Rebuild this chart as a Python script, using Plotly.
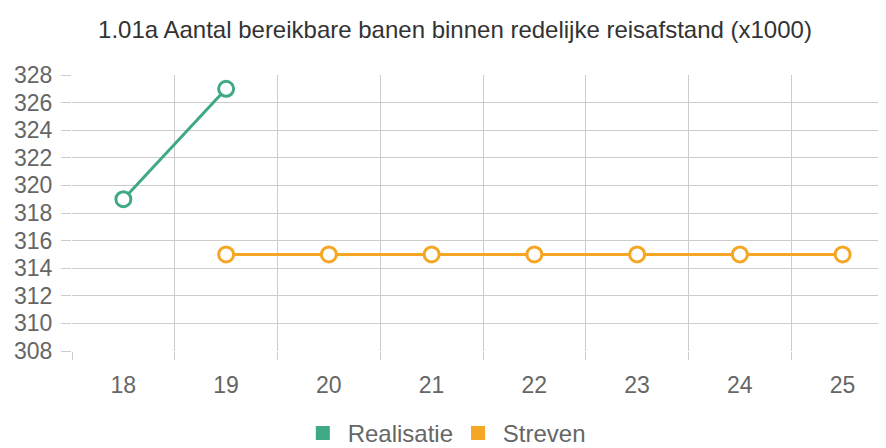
import plotly.graph_objects as go

categories = ["18", "19", "20", "21", "22", "23", "24", "25"]
realisatie_x = ["18", "19"]
realisatie_y = [319, 327]
streven_x = ["19", "20", "21", "22", "23", "24", "25"]
streven_y = [315, 315, 315, 315, 315, 315, 315]
title = "1.01a Aantal bereikbare banen binnen redelijke reisafstand (x1000)"

green = "#3fa985"
orange = "#f6a625"
font = "Liberation Sans, Arial, sans-serif"

fig = go.Figure()
fig.add_trace(go.Scatter(x=realisatie_x, y=realisatie_y, mode="lines+markers",
                         line=dict(color=green, width=3),
                         marker=dict(symbol="circle", size=15, color="white",
                                     line=dict(color=green, width=3)),
                         showlegend=False, name="Realisatie"))
fig.add_trace(go.Scatter(x=streven_x, y=streven_y, mode="lines+markers",
                         line=dict(color=orange, width=3),
                         marker=dict(symbol="circle", size=15, color="white",
                                     line=dict(color=orange, width=3)),
                         showlegend=False, name="Streven"))
fig.add_trace(go.Scatter(x=[None], y=[None], mode="markers", name="\u2009Realisatie",
                         marker=dict(symbol="square", size=14, color=green)))
fig.add_trace(go.Scatter(x=[None], y=[None], mode="markers", name="\u2009Streven",
                         marker=dict(symbol="square", size=14, color=orange)))

fig.update_layout(
    width=886, height=448,
    margin=dict(l=64, r=0, t=67, b=86),
    paper_bgcolor="white", plot_bgcolor="white",
    font=dict(family=font, color="#666666", size=23),
    title=dict(text=title, x=0.5045, xanchor="center", y=0.951, yanchor="middle",
               font=dict(family=font, size=24, color="#333333")),
    xaxis=dict(type="category", categoryorder="array", categoryarray=categories,
               range=[-0.5, 7.5], tickson="boundaries", showgrid=True,
               gridcolor="#cccccc", gridwidth=1, ticks="outside", ticklen=8,
               tickcolor="#cccccc", showline=False, zeroline=False, automargin=False,
               ticklabelstandoff=18,
               tickfont=dict(size=23, color="#666666")),
    yaxis=dict(range=[308, 328], dtick=2, showgrid=True, gridcolor="#cccccc",
               gridwidth=1, ticks="outside", ticklen=10, tickcolor="#cccccc",
               showline=False, zeroline=False, automargin=False,
               ticklabelstandoff=4,
               tickfont=dict(size=23, color="#666666")),
    legend=dict(orientation="h", x=0.456, xanchor="center", y=-0.3, yanchor="middle",
                font=dict(size=24, color="#666666"), itemwidth=30),
)

fig.write_html("out.html")
